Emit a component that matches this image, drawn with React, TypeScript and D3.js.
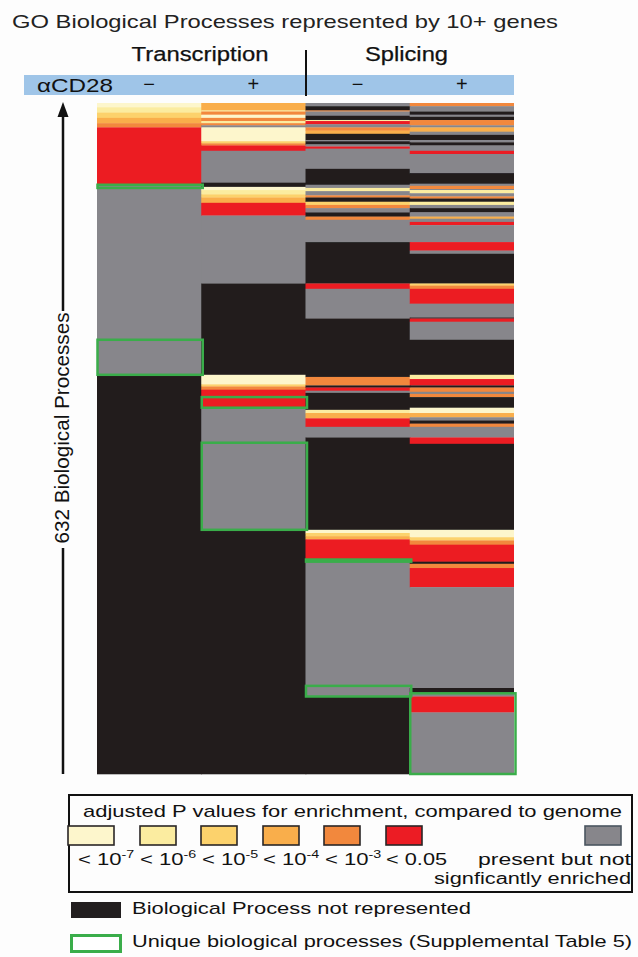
import React from "react";
import * as d3 from "d3";

// ---- data ----
const columns = ["Transcription −", "Transcription +", "Splicing −", "Splicing +"];
const columnSigns = ["−", "+", "−", "+"];
const totalRows = 632;

// categories: p7 <1e-7, p6 <1e-6, p5 <1e-5, p4 <1e-4, p3 <1e-3, p05 <0.05, ns present not significant, na not represented
type Seg = [number, number, string];

const transcriptionMinus: Seg[] = [
  [0, 4, "p7"], [4, 9, "p6"], [9, 14, "p5"], [14, 19, "p4"], [19, 23, "p3"],
  [23, 77, "p05"], [77, 80, "ns"], [80, 223, "ns"], [223, 256, "ns"], [256, 632, "na"],
];

const transcriptionPlus: Seg[] = [
  [0, 7, "p4"], [7, 8, "p6"], [8, 11, "p3"], [11, 14, "p7"], [14, 17, "p3"], [17, 19, "p6"],
  [19, 21, "p3"], [21, 23, "ns"], [23, 36, "p7"], [36, 38, "p5"], [38, 40, "p3"], [40, 45, "p05"],
  [45, 75, "ns"], [75, 79, "na"], [79, 82, "p7"], [82, 86, "p6"], [86, 89, "p5"], [89, 94, "p4"],
  [94, 106, "p05"], [106, 170, "ns"], [170, 256, "na"], [256, 265, "p7"], [265, 267, "p5"],
  [267, 270, "p3"], [270, 277, "p05"], [277, 287, "p05"], [287, 320, "ns"], [320, 402, "ns"],
  [402, 632, "na"],
];

const splicingMinus: Seg[] = [
  [0, 3, "ns"], [3, 7, "na"], [7, 8, "p3"], [8, 12, "ns"], [12, 16, "na"], [16, 17, "p6"],
  [17, 20, "p05"], [20, 23, "ns"], [23, 26, "p3"], [26, 29, "p4"], [29, 35, "na"], [35, 36, "ns"],
  [36, 39, "na"], [39, 41, "ns"], [41, 43, "p05"], [43, 62, "ns"], [62, 77, "na"], [77, 80, "ns"],
  [80, 83, "p6"], [83, 87, "ns"], [87, 89, "p3"], [89, 93, "na"], [93, 96, "p5"], [96, 99, "p3"],
  [99, 103, "ns"], [103, 107, "na"], [107, 110, "p3"], [110, 131, "ns"], [131, 170, "na"],
  [170, 175, "p05"], [175, 203, "ns"], [203, 258, "na"], [258, 266, "p3"], [266, 268, "na"],
  [268, 271, "p05"], [271, 273, "ns"], [273, 289, "na"], [289, 292, "p6"], [292, 297, "p4"],
  [297, 305, "p05"], [305, 315, "ns"], [315, 402, "na"], [402, 405, "p7"], [405, 408, "p5"],
  [408, 411, "p4"], [411, 430, "p05"], [430, 432, "ns"], [432, 549, "ns"], [549, 559, "ns"],
  [559, 632, "na"],
];

const splicingPlus: Seg[] = [
  [0, 3, "p3"], [3, 8, "ns"], [8, 11, "na"], [11, 13, "ns"], [13, 16, "na"], [16, 21, "p3"],
  [21, 23, "ns"], [23, 27, "p4"], [27, 30, "ns"], [30, 35, "na"], [35, 37, "ns"], [37, 40, "na"],
  [40, 45, "ns"], [45, 48, "p05"], [48, 66, "ns"], [66, 76, "na"], [76, 78, "ns"], [78, 81, "p3"],
  [81, 82, "ns"], [82, 85, "p6"], [85, 88, "ns"], [88, 90, "p3"], [90, 93, "na"], [93, 96, "p6"],
  [96, 99, "ns"], [99, 103, "na"], [103, 107, "ns"], [107, 109, "p4"], [109, 112, "ns"],
  [112, 115, "p05"], [115, 131, "ns"], [131, 139, "p05"], [139, 142, "ns"], [142, 170, "na"],
  [170, 172, "p5"], [172, 175, "p3"], [175, 189, "p05"], [189, 202, "ns"], [202, 203, "na"],
  [203, 206, "p05"], [206, 223, "ns"], [223, 256, "na"], [256, 260, "p6"], [260, 266, "p05"],
  [266, 268, "na"], [268, 272, "p3"], [272, 274, "ns"], [274, 277, "p3"], [277, 287, "na"],
  [287, 292, "p7"], [292, 296, "p4"], [296, 299, "ns"], [299, 302, "na"], [302, 305, "p3"],
  [305, 315, "ns"], [315, 321, "p05"], [321, 402, "na"], [402, 409, "p7"], [409, 412, "p5"],
  [412, 416, "p3"], [416, 432, "p05"], [432, 434, "na"], [434, 438, "p3"], [438, 456, "p05"],
  [456, 551, "ns"], [551, 556, "na"], [556, 559, "ns"], [559, 574, "p05"], [574, 632, "ns"],
];

const columnData: Seg[][] = [transcriptionMinus, transcriptionPlus, splicingMinus, splicingPlus];

// unique biological processes: [column, startRow, endRow]
const uniqueBoxes: [number, number, number][] = [
  [0, 77, 80], [0, 223, 256], [1, 277, 287], [1, 320, 402],
  [2, 430, 432], [2, 549, 559], [3, 556, 632],
];

const categories = ["p7", "p6", "p5", "p4", "p3", "p05", "ns", "na"];
const categoryColors = ["#fdf6cc", "#fbeca0", "#fcd26c", "#f9ae4b", "#f2883d", "#ec1c24", "#87868b", "#221e1f"];
const legendExponents = ["-7", "-6", "-5", "-4", "-3"];

const FONT = "'Liberation Sans', Arial, Helvetica, sans-serif";

export default function App() {
  const x = d3.scaleBand<number>().domain([0, 1, 2, 3]).range([97, 514]);
  const y = d3.scaleLinear().domain([0, totalRows]).range([103, 774]);
  const color = d3.scaleOrdinal<string, string>().domain(categories).range(categoryColors);

  const swatchX = [68, 140, 201, 263, 324, 386];
  const swatchW = [46, 36, 36, 36, 36, 36];
  const labelX = [78, 140, 202, 263, 325];

  return (
    <svg
      width={638}
      height={957}
      style={{ position: "absolute", left: 0, top: 0, background: "#fdfdfd" }}
      fontFamily={FONT}
    >
      <defs>
        <filter id="soft" x="0" y="-0.01" width="1" height="1.02">
          <feGaussianBlur stdDeviation="0 0.6" />
        </filter>
      </defs>
      <rect width={638} height={957} fill="#fdfdfd" />

      {/* Title */}
      <text x={12} y={27.5} fontSize={19} fill="#222" textLength={546} lengthAdjust="spacingAndGlyphs">
        GO Biological Processes represented by 10+ genes
      </text>

      {/* Group headers */}
      <text x={131.5} y={61} fontSize={20.5} fill="#111" stroke="#111" strokeWidth={0.25}
        textLength={137} lengthAdjust="spacingAndGlyphs">Transcription</text>
      <text x={365} y={61} fontSize={20.5} fill="#111" stroke="#111" strokeWidth={0.25}
        textLength={83} lengthAdjust="spacingAndGlyphs">Splicing</text>

      {/* αCD28 band */}
      <rect x={24} y={75} width={490} height={20} fill="#9fc5e8" />
      <line x1={306} x2={306} y1={50} y2={96} stroke="#111" strokeWidth={2} />
      <text x={37} y={92} fontSize={19} fill="#111" textLength={76} lengthAdjust="spacingAndGlyphs">αCD28</text>
      {columnSigns.map((s, i) => (
        <text key={i} x={(x(i) as number) + x.bandwidth() / 2} y={91} fontSize={20}
          textAnchor="middle" fill="#111">{s}</text>
      ))}

      {/* Heatmap cells */}
      <g filter="url(#soft)">
        {columnData.map((segs, ci) =>
          segs.map(([s, e, c], si) => (
            <rect key={`${ci}-${si}`} x={x(ci)} y={y(s)}
              width={x.bandwidth() + (ci < columns.length - 1 ? 0.8 : 0)}
              height={y(e) - y(s) + 0.3} fill={color(c)} />
          ))
        )}
      </g>

      {/* Unique boxes */}
      {uniqueBoxes.map(([ci, s, e], i) => (
        <rect key={i} x={(x(ci) as number) + 0.5} y={y(s)} width={x.bandwidth() + 1}
          height={Math.max(y(e) - y(s), 1.5)} fill="none" stroke="#3aad4a" strokeWidth={2.5} />
      ))}

      {/* Arrow & axis label */}
      <line x1={63} x2={63} y1={112} y2={311} stroke="#111" strokeWidth={2.5} />
      <line x1={63} x2={63} y1={548} y2={774} stroke="#111" strokeWidth={2.5} />
      <polygon points="63,102 57.5,117 68.5,117" fill="#111" />
      <g transform="translate(69,428) rotate(-90)">
        <text x={0} y={0} fontSize={21} textAnchor="middle" fill="#111"
          textLength={231} lengthAdjust="spacingAndGlyphs">632 Biological Processes</text>
      </g>

      {/* Legend box */}
      <rect x={69} y={795} width={563} height={97} fill="none" stroke="#111" strokeWidth={2} />
      <text x={83} y={817} fontSize={17} fill="#111" textLength={539} lengthAdjust="spacingAndGlyphs">
        adjusted P values for enrichment, compared to genome
      </text>
      {swatchX.map((sx, i) => (
        <rect key={i} x={sx} y={826} width={swatchW[i]} height={19} fill={categoryColors[i]}
          stroke="#2a2626" strokeWidth={1.6} />
      ))}
      <rect x={585} y={826} width={36} height={19} fill={categoryColors[6]} stroke="#4a5560" strokeWidth={1.6} />
      {legendExponents.map((ex, i) => (
        <g key={i} transform={`translate(${labelX[i]},865) scale(1.3,1)`}>
          <text x={0} y={0} fontSize={17} fill="#111">
            {"< 10"}
            <tspan fontSize={11} dy={-7}>{ex}</tspan>
          </text>
        </g>
      ))}
      <g transform="translate(386,865) scale(1.28,1)">
        <text x={0} y={0} fontSize={17} fill="#111">{"< 0.05"}</text>
      </g>
      <text x={631} y={865} fontSize={16} fill="#111" textAnchor="end"
        textLength={153} lengthAdjust="spacingAndGlyphs">present but not</text>
      <text x={631} y={884} fontSize={16} fill="#111" textAnchor="end"
        textLength={197} lengthAdjust="spacingAndGlyphs">signficantly enriched</text>

      {/* Other legend items */}
      <rect x={71} y={902} width={50} height={16} fill={categoryColors[7]} />
      <text x={132} y={914} fontSize={17} fill="#111" textLength={339} lengthAdjust="spacingAndGlyphs">
        Biological Process not represented
      </text>
      <rect x={71.5} y={935.5} width={49} height={16} fill="#fff" stroke="#3aad4a" strokeWidth={3} />
      <text x={132} y={947} fontSize={17} fill="#111" textLength={500} lengthAdjust="spacingAndGlyphs">
        Unique biological processes (Supplemental Table 5)
      </text>
    </svg>
  );
}
